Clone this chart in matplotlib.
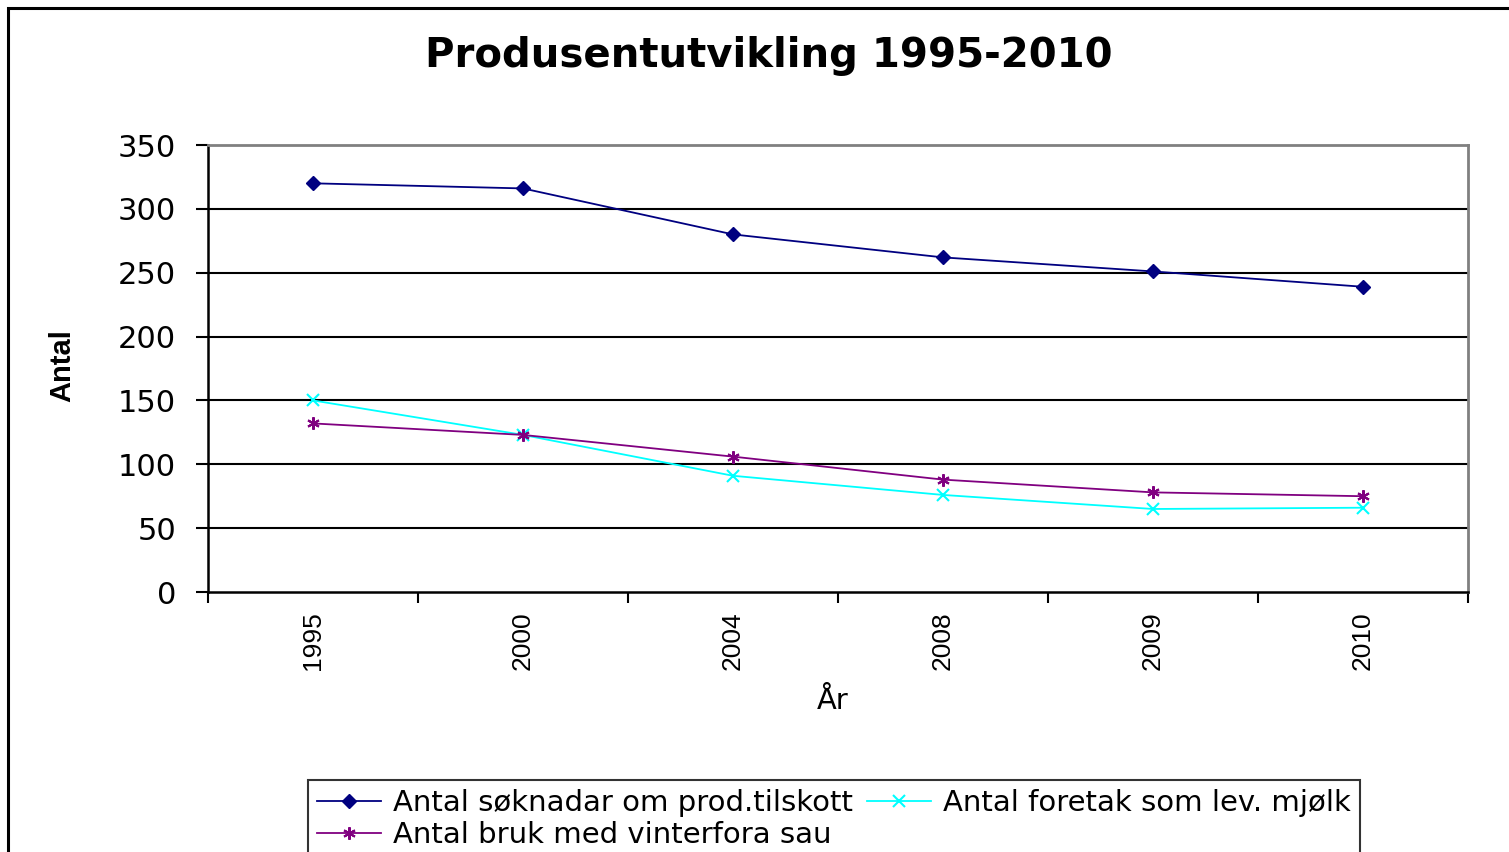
import matplotlib.pyplot as plt
from matplotlib.patches import Rectangle

plt.rcParams['font.family'] = ['DejaVu Sans']

years = ['1995', '2000', '2004', '2008', '2009', '2010']
soknadar = [320, 316, 280, 262, 251, 239]
foretak_mjolk = [150, 123, 91, 76, 65, 66]
bruk_sau = [132, 123, 106, 88, 78, 75]

fig = plt.figure(figsize=(15.09, 8.52), dpi=100)
ax = fig.add_axes([208 / 1509, 1 - 592 / 852, 1260 / 1509, 447 / 852])

x = list(range(len(years)))
l1, = ax.plot(x, soknadar, color='#000080', lw=1.3, marker='D', ms=7,
              label='Antal søknadar om prod.tilskott')
l2, = ax.plot(x, foretak_mjolk, color='#00FFFF', lw=1.3, marker='x', ms=8,
              mew=1.5, label='Antal foretak som lev. mjølk')
l3, = ax.plot(x, bruk_sau, color='#800080', lw=1.3, marker=(6, 2, 0), ms=9,
              mew=1.5, label='Antal bruk med vinterfora sau')

ax.set_xlim(-0.5, len(years) - 0.5)
ax.set_ylim(0, 350)
ax.set_yticks(range(0, 351, 50))
ax.set_xticks([i - 0.5 for i in range(len(years) + 1)])
ax.set_xticklabels([])
ax.set_xticks(x, minor=True)
ax.set_xticklabels(years, minor=True, rotation=90, fontsize=19,
                   family='Liberation Sans')
ax.tick_params(axis='x', which='minor', length=0, pad=14)
ax.tick_params(axis='x', which='major', length=8, width=1.5, direction='out')
ax.tick_params(axis='y', length=9, width=1.5, direction='out', pad=14,
               labelsize=22)

for v in range(50, 350, 50):
    ax.axhline(v, color='black', lw=1.5, zorder=0)
for s in ['left', 'bottom']:
    ax.spines[s].set_color('black')
    ax.spines[s].set_linewidth(1.8)
for s in ['top', 'right']:
    ax.spines[s].set_color('#808080')
    ax.spines[s].set_linewidth(2)

fig.text(769 / 1509, 1 - 56 / 852, 'Produsentutvikling 1995-2010',
         ha='center', va='center', fontsize=29, fontweight='bold')
fig.text(62 / 1509, 1 - 366 / 852, 'Antal', rotation=90, ha='center',
         va='center', fontsize=21, fontweight='bold', family='Liberation Sans')
fig.text(833 / 1509, 1 - 701 / 852, 'År', ha='center', va='center',
         fontsize=21)

leg = fig.legend([l1, l3, l2], [l1.get_label(), l3.get_label(), l2.get_label()],
                 loc='upper left', bbox_to_anchor=(308 / 1509, 1 - 780 / 852),
                 borderaxespad=0, ncol=2, fontsize=21, frameon=True,
                 fancybox=False, edgecolor='black', handlelength=2.2,
                 handletextpad=0.4, columnspacing=0.5, borderpad=0.3,
                 labelspacing=0.15)
leg.get_frame().set_linewidth(1.5)

fig.patches.append(Rectangle((8 / 1509, -0.1), 1.2, 1.1 - 8 / 852,
                             transform=fig.transFigure, fill=False,
                             edgecolor='black', lw=2.2))

fig.savefig('out.png', dpi=100)
